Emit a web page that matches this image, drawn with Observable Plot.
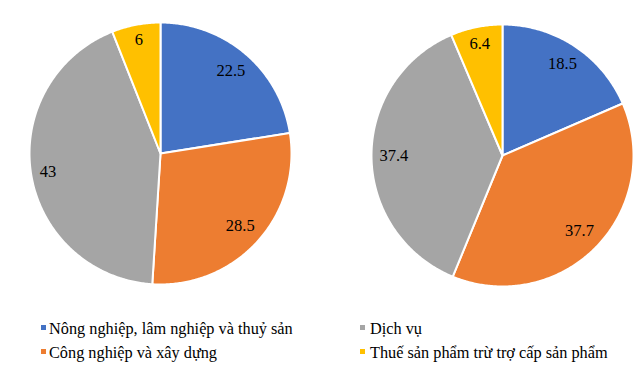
<!DOCTYPE html>
<html><head><meta charset="utf-8">
<script src="https://cdn.jsdelivr.net/npm/d3@7"></script>
<script src="https://cdn.jsdelivr.net/npm/@observablehq/plot@0.6"></script>
<style>
body{margin:0;background:#fff;width:643px;height:376px;position:relative;overflow:hidden;font-family:'Liberation Serif',serif}
.pie{position:absolute;width:300px;height:300px}
.pie svg{max-width:none}
.legend{position:absolute;font-family:'Liberation Serif',serif;font-size:16.3px;color:#000;white-space:nowrap;line-height:18px}
.sw{position:absolute;width:5px;height:5px}
</style></head><body>
<div id="p1" class="pie" style="left:10px;top:3px"></div>
<div id="p2" class="pie" style="left:352px;top:5px"></div>
<div id="leg"></div>
<script>
const categories = ["Nông nghiệp, lâm nghiệp và thuỷ sản","Công nghiệp và xây dựng","Dịch vụ","Thuế sản phẩm trừ trợ cấp sản phẩm"];
const colors = ["#4472C4","#ED7D31","#A5A5A5","#FFC000"];
const valuesLeft = [22.5, 28.5, 43, 6];
const valuesRight = [18.5, 37.7, 37.4, 6.4];
const labelsLeft = ["22.5","28.5","43","6"];
const labelsRight = ["18.5","37.7","37.4","6.4"];

const S = 300, R = 131, half = S / 2 / R;
const FONT = "'Liberation Serif', serif";
const FS = 16.5;
const ctx = document.createElement("canvas").getContext("2d");
ctx.font = FS + "px 'Liberation Serif'";

function pieChart(values, labels) {
  const arcs = d3.pie().sort(null).value(d => d)(values);
  const pts = [], lab = [];
  arcs.forEach((a, i) => {
    const n = Math.max(2, Math.ceil((a.endAngle - a.startAngle) / 0.01));
    pts.push({k: categories[i], x: 0, y: 0});
    for (let j = 0; j <= n; j++) {
      const t = a.startAngle + (a.endAngle - a.startAngle) * j / n;
      pts.push({k: categories[i], x: Math.sin(t), y: Math.cos(t)});
    }
    pts.push({k: categories[i], x: 0, y: 0});
    // "inside end" label: box kept inside an inner circle
    const m = (a.startAngle + a.endAngle) / 2;
    const ux = Math.sin(m), uy = Math.cos(m);
    const w = ctx.measureText(labels[i]).width, h = 14;
    const ext = (Math.abs(ux) * w + Math.abs(uy) * h) / 2;
    const dist = (0.94 * R - ext) / R;
    lab.push({x: dist * ux, y: dist * uy, t: labels[i]});
  });
  return Plot.plot({
    width: S, height: S, margin: 0,
    style: {background: "transparent", fontFamily: FONT},
    x: {domain: [-half, half], axis: null},
    y: {domain: [-half, half], axis: null},
    color: {domain: categories, range: colors},
    marks: [
      Plot.line(pts, {x: "x", y: "y", z: "k", fill: "k", stroke: "white", strokeWidth: 2, strokeLinejoin: "round"}),
      Plot.text(lab, {x: "x", y: "y", text: "t", fontSize: FS, fontFamily: FONT, fill: "#000"})
    ]
  });
}
document.getElementById("p1").appendChild(pieChart(valuesLeft, labelsLeft));
document.getElementById("p2").appendChild(pieChart(valuesRight, labelsRight));

// legend layout: [square left, text left, row top]
const legPos = [[41, 49, 320], [41, 49, 344], [360, 370, 320], [360, 370, 344]];
const leg = document.getElementById("leg");
categories.forEach((c, i) => {
  const [sx, tx, ty] = legPos[i];
  const s = document.createElement("div");
  s.className = "sw";
  s.style.left = sx + "px";
  s.style.top = (ty + 4.5) + "px";
  s.style.background = colors[i];
  leg.appendChild(s);
  const d = document.createElement("div");
  d.className = "legend";
  d.style.left = tx + "px";
  d.style.top = ty + "px";
  d.textContent = c;
  leg.appendChild(d);
});
</script>
</body></html>
